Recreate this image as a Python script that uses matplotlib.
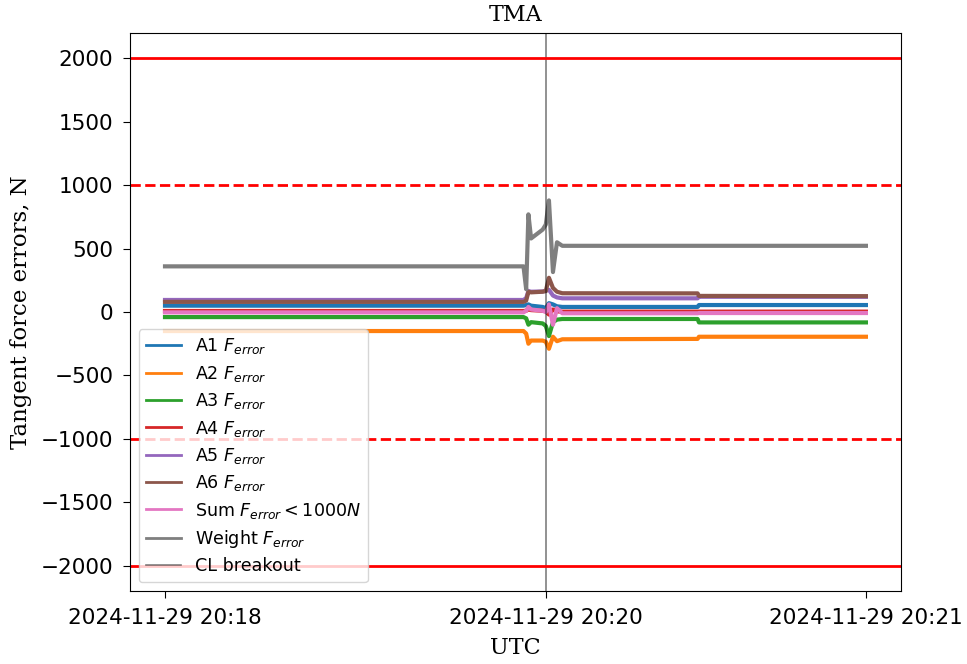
import numpy as np
import matplotlib
matplotlib.use("Agg")
import matplotlib.pyplot as plt
import matplotlib.dates as mdates

# knot times, seconds after 2024-11-29 20:18:40
t_start = np.datetime64("2024-11-29T20:18:40")
t_sec = [0, 80.3, 80.9, 81.4, 82.0, 84.6, 85.3, 86.0, 86.9, 87.8, 89.0, 119.3, 119.6, 157]
breakout_sec = 85.4

# tangent force errors, N
a1 = [50, 50, 55, 60, 50, 40, 30, 70, 60, 45, 40, 40, 55, 55]
a2 = [-150, -150, -170, -250, -225, -225, -235, -290, -195, -230, -215, -212, -195, -195]
a3 = [-40, -40, -50, -100, -80, -90, -110, -190, -80, -60, -55, -55, -82, -82]
a4 = [8, 8, 10, 20, 15, 10, 5, -20, 20, 5, 3, 3, 3, 3]
a5 = [95, 95, 110, 165, 160, 162, 168, 175, 130, 115, 108, 108, 120, 120]
a6 = [80, 80, 90, 160, 155, 160, 165, 270, 190, 160, 148, 147, 127, 125]
f_sum = [-3, -3, 10, 40, 20, 10, 0, 60, -100, 30, -10, -10, -8, -8]
weight = [360, 360, 180, 770, 580, 650, 690, 880, 315, 550, 522, 522, 522, 522]

series = [a1, a2, a3, a4, a5, a6, f_sum, weight]
labels = [r"A1 $F_{error}$", r"A2 $F_{error}$", r"A3 $F_{error}$", r"A4 $F_{error}$",
          r"A5 $F_{error}$", r"A6 $F_{error}$", r"Sum $F_{error} < 1000 N$",
          r"Weight $F_{error}$"]

def to_time(s):
    return t_start + (np.asarray(s, dtype=float) * 1000).astype("timedelta64[ms]")

times = to_time(t_sec)
t_break = to_time([breakout_sec])[0]

fig = plt.figure(figsize=(9.67, 6.64), dpi=100)
ax = fig.add_axes([0.1344, 0.1099, 0.7973, 0.8404])

for i, (vals, lab) in enumerate(zip(series, labels)):
    ax.plot(times, vals, color=f"C{i}", lw=3, label=lab)

ax.axvline(t_break, color="k", alpha=0.5, lw=1.2, label="CL breakout")

ax.axhline(2000, color="red", lw=2)
ax.axhline(-2000, color="red", lw=2)
ax.axhline(1000, color="red", lw=2, ls="--")
ax.axhline(-1000, color="red", lw=2, ls="--")

ax.set_ylim(-2200, 2200)
ax.set_xticks([times[0], t_break, times[-1]])
ax.xaxis.set_major_formatter(mdates.DateFormatter("%Y-%m-%d %H:%M"))
ax.tick_params(labelsize=15.5, length=5, pad=7)

ax.set_title("TMA", fontfamily="DejaVu Serif", fontsize=16, pad=9)
ax.set_xlabel("UTC", fontfamily="DejaVu Serif", fontsize=16, labelpad=7)
ax.set_ylabel("Tangent force errors, N", fontfamily="DejaVu Serif", fontsize=16.5, labelpad=6)

leg = ax.legend(loc="lower left", fontsize=12.6, labelspacing=0.42)
for h in leg.legend_handles[:-1]:
    h.set_linewidth(2)

fig.savefig("out.png", dpi=100)
